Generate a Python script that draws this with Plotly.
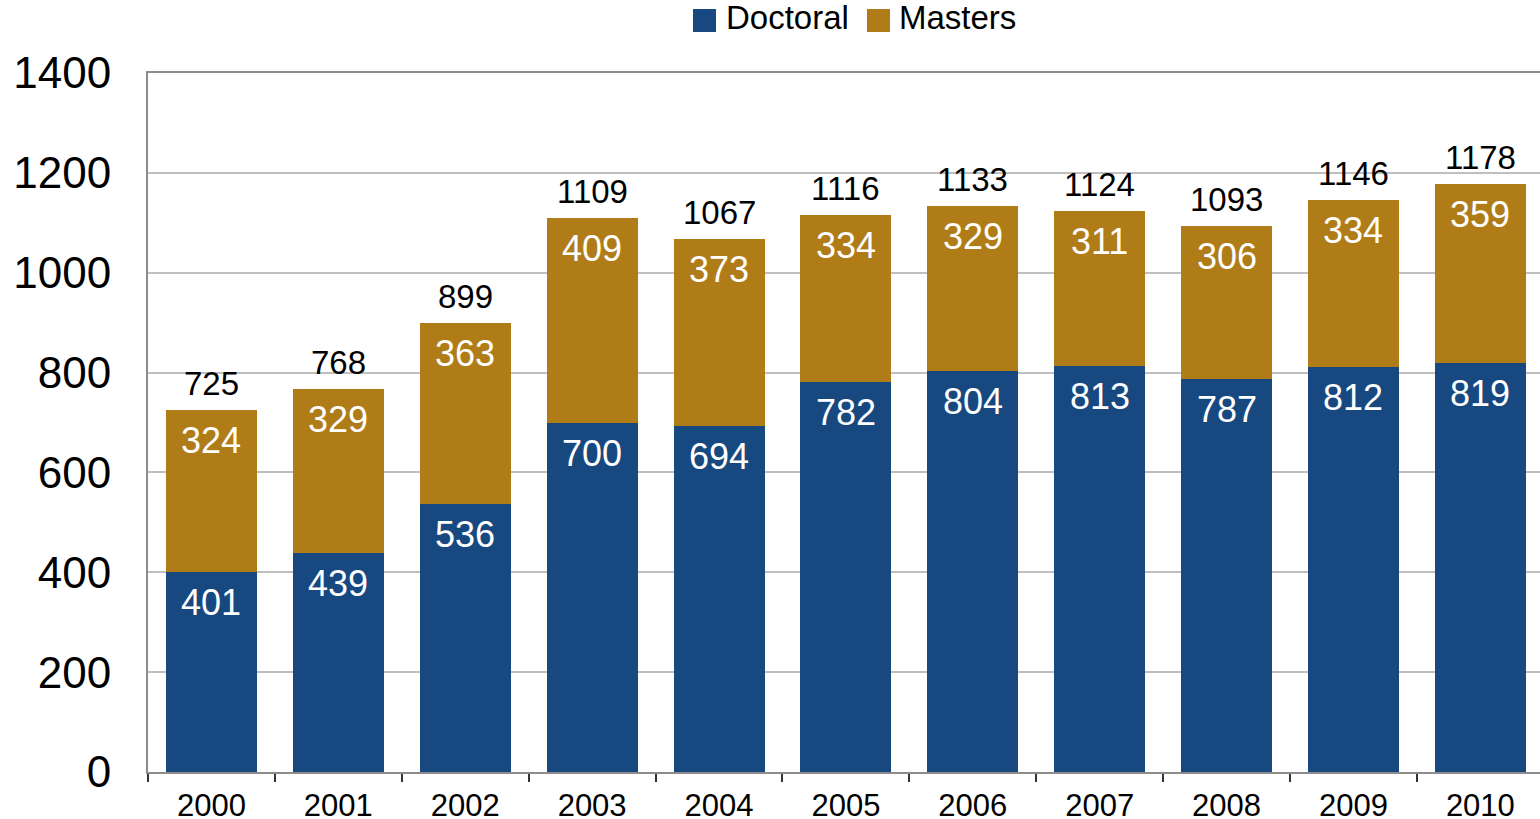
import plotly.graph_objects as go

years = ["2000", "2001", "2002", "2003", "2004", "2005", "2006", "2007", "2008", "2009", "2010"]
doctoral = [401, 439, 536, 700, 694, 782, 804, 813, 787, 812, 819]
masters = [324, 329, 363, 409, 373, 334, 329, 311, 306, 334, 359]
totals = [d + m for d, m in zip(doctoral, masters)]
y_ticks = [0, 200, 400, 600, 800, 1000, 1200, 1400]

C_DOC = "#17487F"
C_MAS = "#B07C17"
FONT = "Liberation Sans, Arial, sans-serif"

W, H = 1540, 819
ML, MT, MB, MR = 148, 73, 47, 0
PW, PH = W - ML - MR, H - MT - MB


def px2paper_x(px):
    return (px - ML) / PW


def px2paper_y(py):
    return (H - MB - py) / PH


fig = go.Figure()
fig.add_trace(go.Bar(name="Doctoral", x=years, y=doctoral, showlegend=False,
                     marker=dict(color=C_DOC, line=dict(width=0))))
fig.add_trace(go.Bar(name="Masters", x=years, y=masters, showlegend=False,
                     marker=dict(color=C_MAS, line=dict(width=0))))

ann = []
for i, (d, m, t) in enumerate(zip(doctoral, masters, totals)):
    ann.append(dict(x=i, y=d, xref="x", yref="y", text=str(d), showarrow=False,
                    yanchor="top", yshift=-8, font=dict(family=FONT, size=36, color="white")))
    ann.append(dict(x=i, y=d + m, xref="x", yref="y", text=str(m), showarrow=False,
                    yanchor="top", yshift=-8, font=dict(family=FONT, size=36, color="white")))
    ann.append(dict(x=i, y=t, xref="x", yref="y", text=str(t), showarrow=False,
                    yanchor="bottom", yshift=6, font=dict(family=FONT, size=33, color="black")))

# manual legend (large square swatches)
shapes = []
legend_items = [("Doctoral", C_DOC, 693, 724), ("Masters", C_MAS, 867, 897)]
for name, col, sx, tx in legend_items:
    shapes.append(dict(type="rect", xref="paper", yref="paper",
                       x0=px2paper_x(sx), x1=px2paper_x(sx + 23),
                       y0=px2paper_y(32), y1=px2paper_y(9),
                       fillcolor=col, line=dict(width=0), layer="above"))
    ann.append(dict(x=px2paper_x(tx), y=px2paper_y(17.5), xref="paper", yref="paper",
                    text=name, showarrow=False, xanchor="left", yanchor="middle",
                    font=dict(family=FONT, size=33, color="black")))

fig.update_layout(
    barmode="stack",
    bargap=0.283,
    width=W, height=H,
    margin=dict(l=ML, r=MR, t=MT, b=MB, autoexpand=False),
    paper_bgcolor="white", plot_bgcolor="white",
    font=dict(family=FONT, color="black"),
    showlegend=False,
    annotations=ann,
    shapes=shapes,
    xaxis=dict(type="category", range=[-0.5, 10.47], showline=True, linecolor="#8c8c8c", linewidth=2,
               mirror=True, ticks="outside", tickson="boundaries", ticklen=8, tickcolor="#333333",
               tickwidth=2, showgrid=False, automargin=False, ticklabelstandoff=5,
               tickfont=dict(family=FONT, size=31, color="black"), fixedrange=True),
    yaxis=dict(range=[0, 1400], tickvals=y_ticks, showline=True, linecolor="#8c8c8c", linewidth=2,
               showgrid=True, gridcolor="#bfbfbf", gridwidth=2, zeroline=False, automargin=False,
               ticks="", ticklabelstandoff=26,
               tickfont=dict(family=FONT, size=44, color="black")),
)

fig.write_html(
    "out.html",
    config={"displayModeBar": False},
    post_script="document.body.style.margin='0px';document.body.style.overflow='hidden';",
)
